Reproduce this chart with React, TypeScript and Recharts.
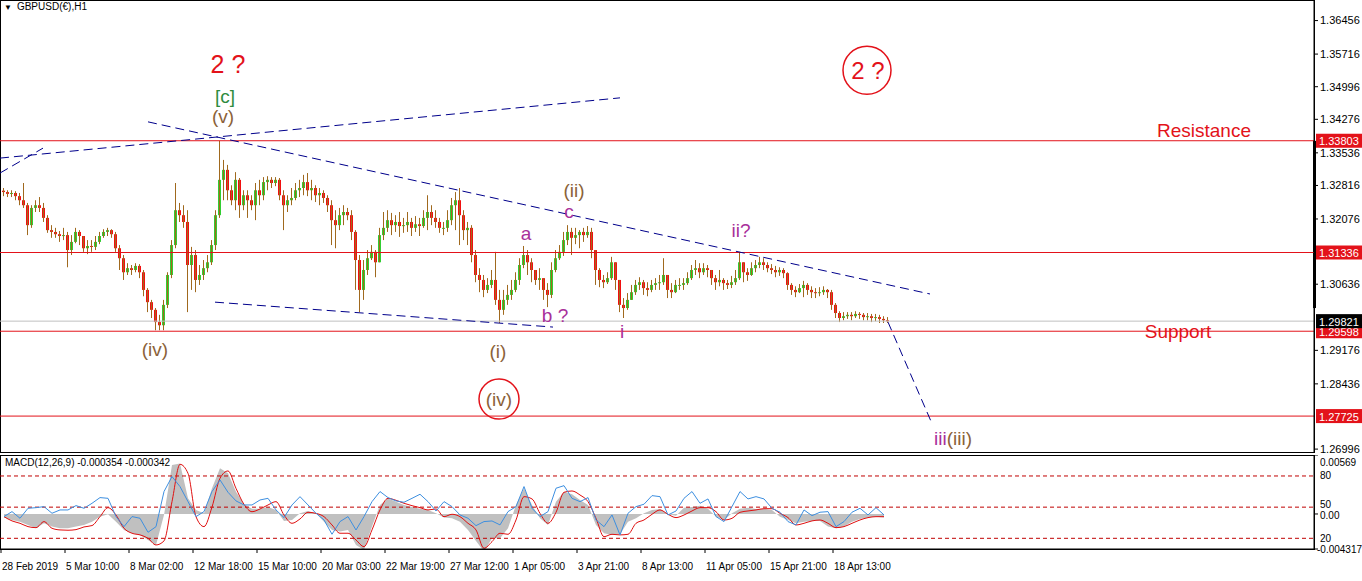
import React from "react";
import {
  ComposedChart,
  Bar,
  Line,
  Area,
  XAxis,
  YAxis,
  ReferenceLine,
  ReferenceDot,
  ReferenceArea,
} from "recharts";

// H1 candles grouped by 4 bars, prices in pips (x 1e-4)
const firstOpen = 13270;
const closes = [
  13267, 13263, 13265, 13258, 13249, 13238, 13194, 13232, 13238, 13232,
  13210, 13183, 13179, 13174, 13170, 13172, 13139, 13157, 13179, 13170,
  13143, 13148, 13146, 13157, 13170, 13179, 13183, 13174, 13143, 13121,
  13090, 13099, 13095, 13104, 13090, 13051, 13024, 13007, 12980, 12973,
  13018, 13084, 13150, 13227, 13216, 13201, 13106, 13128, 13073, 13084,
  13099, 13112, 13150, 13216, 13294, 13316, 13271, 13249, 13294, 13238,
  13260, 13249, 13238, 13271, 13260, 13289, 13294, 13287, 13294, 13260,
  13238, 13249, 13254, 13271, 13276, 13289, 13271, 13276, 13260, 13265,
  13254, 13238, 13205, 13194, 13216, 13223, 13216, 13179, 13117, 13051,
  13095, 13121, 13135, 13112, 13172, 13188, 13205, 13194, 13201, 13192,
  13194, 13201, 13188, 13196, 13192, 13210, 13223, 13210, 13201, 13188,
  13188, 13205, 13238, 13249, 13216, 13183, 13188, 13128, 13084, 13073,
  13051, 13062, 13073, 13029, 13007, 13029, 13040, 13051, 13073, 13106,
  13128, 13112, 13095, 13073, 13077, 13051, 13040, 13095, 13121, 13135,
  13161, 13179, 13166, 13172, 13179, 13172, 13179, 13139, 13095, 13073,
  13068, 13077, 13112, 13073, 13018, 13011, 13029, 13046, 13062, 13068,
  13055, 13051, 13062, 13066, 13068, 13084, 13051, 13046, 13062, 13062,
  13066, 13077, 13095, 13099, 13090, 13099, 13095, 13077, 13068, 13073,
  13066, 13062, 13068, 13077, 13112, 13090, 13084, 13099, 13106, 13112,
  13106, 13099, 13095, 13090, 13095, 13088, 13062, 13051, 13046, 13055,
  13062, 13051, 13046, 13044, 13046, 13051, 13046, 13018, 13000, 12989,
  12993, 12996, 12993, 12998, 12996, 12991, 12993, 12989, 12991, 12987,
  12984, 12982,
];
const highs = [
  13276, 13271, 13271, 13269, 13265, 13287, 13243, 13238, 13249, 13256,
  13243, 13216, 13194, 13188, 13181, 13188, 13179, 13172, 13188, 13183,
  13170, 13161, 13161, 13170, 13179, 13185, 13188, 13185, 13179, 13150,
  13128, 13110, 13106, 13110, 13108, 13095, 13055, 13029, 13011, 12996,
  13029, 13090, 13161, 13287, 13243, 13238, 13227, 13146, 13139, 13106,
  13117, 13128, 13161, 13227, 13380, 13338, 13327, 13282, 13311, 13298,
  13271, 13271, 13260, 13287, 13294, 13300, 13302, 13300, 13300, 13298,
  13271, 13260, 13276, 13287, 13294, 13305, 13309, 13294, 13282, 13276,
  13271, 13260, 13249, 13227, 13232, 13238, 13232, 13227, 13183, 13128,
  13117, 13139, 13150, 13139, 13188, 13223, 13227, 13221, 13216, 13223,
  13210, 13223, 13210, 13214, 13210, 13227, 13260, 13238, 13227, 13210,
  13201, 13227, 13254, 13267, 13276, 13227, 13201, 13194, 13139, 13099,
  13084, 13077, 13095, 13135, 13051, 13051, 13062, 13073, 13090, 13121,
  13148, 13139, 13121, 13095, 13099, 13073, 13066, 13112, 13139, 13150,
  13179, 13194, 13188, 13188, 13183, 13188, 13192, 13188, 13139, 13099,
  13084, 13090, 13124, 13112, 13062, 13033, 13044, 13062, 13073, 13079,
  13073, 13068, 13073, 13077, 13084, 13121, 13084, 13066, 13073, 13077,
  13077, 13090, 13106, 13117, 13110, 13110, 13106, 13095, 13084, 13095,
  13077, 13073, 13082, 13095, 13135, 13106, 13099, 13112, 13117, 13124,
  13121, 13112, 13108, 13104, 13101, 13099, 13090, 13066, 13059, 13064,
  13071, 13066, 13059, 13055, 13057, 13059, 13053, 13051, 13022, 13004,
  13002, 13002, 13002, 13004, 13002, 13000, 13000, 12998, 12998, 12996,
  12993, 12991,
];
const lows = [
  13258, 13256, 13256, 13249, 13238, 13232, 13172, 13188, 13223, 13223,
  13201, 13177, 13166, 13166, 13157, 13161, 13101, 13128, 13154, 13150,
  13135, 13130, 13135, 13139, 13152, 13166, 13170, 13166, 13135, 13095,
  13073, 13084, 13084, 13090, 13077, 13037, 13002, 12989, 12962, 12962,
  12962, 13011, 13077, 13143, 13201, 13188, 13002, 13051, 13046, 13062,
  13073, 13090, 13106, 13139, 13210, 13249, 13249, 13238, 13227, 13210,
  13227, 13210, 13227, 13205, 13238, 13249, 13271, 13276, 13280, 13249,
  13183, 13223, 13238, 13249, 13256, 13260, 13258, 13249, 13245, 13238,
  13243, 13223, 13150, 13143, 13183, 13194, 13205, 13161, 13051, 13002,
  13029, 13084, 13117, 13079, 13112, 13161, 13179, 13172, 13179, 13168,
  13177, 13179, 13170, 13179, 13170, 13188, 13183, 13194, 13188, 13177,
  13172, 13179, 13194, 13183, 13150, 13161, 13150, 13112, 13068, 13046,
  13035, 13044, 13055, 13018, 12978, 12996, 13018, 13029, 13046, 13062,
  13099, 13084, 13068, 13062, 13051, 13029, 13013, 13033, 13090, 13117,
  13126, 13150, 13128, 13152, 13143, 13157, 13166, 13121, 13062, 13057,
  13055, 13064, 13073, 13051, 13002, 12989, 13007, 13029, 13040, 13051,
  13040, 13037, 13046, 13051, 13051, 13062, 13033, 13033, 13044, 13051,
  13051, 13062, 13073, 13084, 13077, 13084, 13079, 13062, 13051, 13059,
  13051, 13053, 13055, 13062, 13073, 13068, 13071, 13082, 13090, 13099,
  13095, 13090, 13086, 13079, 13082, 13077, 13051, 13040, 13035, 13044,
  13035, 13040, 13033, 13033, 13037, 13040, 13033, 13007, 12989, 12980,
  12984, 12987, 12984, 12989, 12987, 12984, 12984, 12980, 12982, 12978,
  12978, 12978,
];

// MACD window, sampled every 8 bars; macd values in x 1e-4
const macdHist = [
  -3.5, -5.8, -7.4, -10.6, -13.8, -9.0, -12.2, -13.8, -13.8, -12.2,
  -10.6, -7.4, -2.6, -0.3, -7.4, -15.4, -18.6, -20.2, -25.1, -29.9,
  -1.0, 47.2, 48.8, 15.1, 3.9, 0.6, 24.7, 44.0, 39.2, 21.5,
  9.3, 5.1, 5.1, 6.7, 3.9, -6.7, -5.8, 0.6, 2.9, 0.6,
  -7.4, -15.4, -17.0, -15.4, -29.9, -34.7, -12.2, 8.7, 15.1, 11.9,
  8.7, 6.7, 5.1, 3.9, 0.6, -3.5, -4.2, -7.4, -15.4, -26.0,
  -36.3, -23.5, -23.5, -13.8, 8.7, 24.7, 8.7, -4.2, -10.6, 11.9,
  21.5, 19.0, 13.5, 8.7, -10.6, -18.6, -20.2, -19.6, -7.4, -4.2,
  0.6, 3.9, 4.8, -0.3, -1.6, 6.1, 6.7, 8.0, 5.1, -2.6,
  -5.8, 0.6, 5.1, 6.1, 4.8, 5.1, 3.9, -2.6, -5.8, -9.0,
  -7.4, -6.7, -6.7, -12.2, -13.8, -12.2, -7.4, -4.8, -3.5, -2.6,
  -3.5,
];
const macdSignal = [
  -2.6, -6.7, -9.0, -12.2, -13.2, -7.4, -13.8, -15.4, -15.7, -15.1,
  -12.5, -11.2, -2.6, 6.1, -1.0, -13.8, -18.6, -20.2, -23.5, -29.9,
  -26.0, 11.9, 47.9, 39.2, -2.6, -12.2, 6.7, 34.4, 41.5, 24.7,
  9.3, 2.2, 4.8, 8.7, 11.9, -1.0, -9.0, -4.8, 1.6, 0.6,
  -2.6, -10.6, -18.6, -18.6, -25.1, -31.5, -15.4, 3.9, 15.1, 13.2,
  10.3, 8.0, 6.1, 3.9, 4.8, -2.6, -0.3, -2.6, -9.0, -15.4,
  -33.1, -26.7, -18.6, -19.6, -5.8, 16.7, 14.5, 0.6, -9.0, 1.6,
  20.9, 22.2, 18.3, 11.9, -4.2, -21.9, -19.6, -20.2, -19.6, -9.0,
  -5.8, -0.3, 3.9, -0.3, -3.5, -1.0, 2.9, 6.1, 6.1, 2.2,
  -5.8, -4.2, 1.6, 2.9, 3.9, 5.1, 5.1, 0.6, -3.5, -10.6,
  -9.0, -6.7, -5.8, -9.0, -13.2, -12.2, -9.0, -5.8, -3.5, -2.6,
  -2.6,
];
const oscLine = [
  40.9, 45.7, 39.3, 48.9, 49.5, 50.5, 44.1, 47.3, 47.3, 51.5,
  48.9, 53.7, 59.2, 58.5, 40.9, 31.2, 40.9, 39.3, 25.8, 31.2,
  65.0, 79.4, 69.8, 55.3, 40.9, 45.7, 65.0, 76.2, 64.3, 56.0,
  52.1, 52.1, 56.9, 58.5, 47.3, 39.9, 52.1, 60.1, 52.1, 44.1,
  37.7, 23.9, 36.1, 40.9, 28.0, 40.9, 55.3, 65.0, 59.2, 56.0,
  54.7, 58.5, 62.4, 55.3, 46.3, 55.3, 50.5, 42.5, 39.3, 32.2,
  36.1, 36.7, 32.9, 45.7, 50.5, 69.8, 48.9, 40.9, 45.7, 68.2,
  70.7, 58.5, 55.3, 59.2, 37.7, 31.2, 42.5, 23.2, 44.1, 50.5,
  52.8, 61.1, 60.1, 42.5, 46.3, 58.5, 65.0, 53.7, 57.9, 40.9,
  36.1, 50.5, 65.0, 57.9, 60.1, 57.9, 48.9, 45.1, 36.1, 32.9,
  47.3, 41.8, 45.1, 45.7, 31.2, 36.1, 45.1, 48.9, 42.5, 49.5,
  42.5,
];

const timeTicks = [1, 65, 129, 193, 257, 321, 385, 449, 513, 577, 641, 705, 769, 833];
const timeLabels = [
  "28 Feb 2019", "5 Mar 10:00", "8 Mar 02:00", "12 Mar 18:00", "15 Mar 10:00",
  "20 Mar 03:00", "22 Mar 19:00", "27 Mar 12:00", "1 Apr 05:00", "3 Apr 21:00",
  "8 Apr 13:00", "11 Apr 05:00", "15 Apr 21:00", "18 Apr 13:00",
];
const priceTicks = [
  1.36456, 1.35716, 1.34996, 1.34276, 1.33536, 1.32816, 1.32076, 1.30636,
  1.29176, 1.28436, 1.26996,
];
const levels = [1.33803, 1.31336, 1.29598, 1.27725];
const lastPrice = 1.29821;
const oscLevels = [80, 50, 20];

const FONT = "Arial, 'Liberation Sans', sans-serif";
const RED = "#E3121A";
const BROWN = "#8B6239";
const MAGENTA = "#A8309A";
const GREEN_TXT = "#2E8B3E";
const NAVY = "#00008B";

const candles = closes.map((c, i) => {
  const open = i === 0 ? firstOpen : closes[i - 1];
  return {
    t: 4 * i + 2,
    open: open / 1e4,
    close: c / 1e4,
    high: Math.max(highs[i], open, c) / 1e4,
    low: Math.min(lows[i], open, c) / 1e4,
  };
});

const macdData = macdHist.map((h, j) => ({
  t: 8 * j + 4,
  hist: h / 1e4,
  signal: macdSignal[j] / 1e4,
  osc: oscLine[j],
}));

// trend lines: [bar, price] pairs
const trendLines = [
  [[0, 1.3342], [620, 1.3475]],
  [[0, 1.3309], [43, 1.3364]],
  [[148, 1.3422], [930, 1.3042]],
  [[215, 1.3024], [553, 1.2969]],
  [[888, 1.298], [931, 1.2761]],
];

const notes = [
  { x: 228, p: 1.355, text: "2 ?", color: RED, size: 25 },
  { x: 225, p: 1.3479, text: "[c]", color: GREEN_TXT, size: 19 },
  { x: 223, p: 1.3433, text: "(v)", color: BROWN, size: 19 },
  { x: 155, p: 1.292, text: "(iv)", color: BROWN, size: 19 },
  { x: 498, p: 1.2916, text: "(i)", color: BROWN, size: 19 },
  { x: 499, p: 1.2808, text: "(iv)", color: BROWN, size: 19 },
  { x: 574, p: 1.3271, text: "(ii)", color: BROWN, size: 19 },
  { x: 569, p: 1.3225, text: "c", color: MAGENTA, size: 19 },
  { x: 526, p: 1.3176, text: "a", color: MAGENTA, size: 19 },
  { x: 555, p: 1.2995, text: "b ?", color: MAGENTA, size: 19 },
  { x: 622, p: 1.296, text: "i", color: MAGENTA, size: 19 },
  { x: 741, p: 1.3183, text: "ii?", color: MAGENTA, size: 19 },
  { x: 868, p: 1.3536, text: "2 ?", color: RED, size: 24 },
  { x: 1204, p: 1.3404, text: "Resistance", color: RED, size: 19 },
  { x: 1178, p: 1.296, text: "Support", color: RED, size: 19 },
];
const circles = [
  { x: 499, p: 1.281, r: 20 },
  { x: 867, p: 1.3536, r: 24 },
];

const Candle = (props: any) => {
  const { x, y, width, height, payload } = props;
  const { open, close, high, low } = payload;
  const span = high - low || 1e-9;
  const toY = (v: number) => y + ((high - v) / span) * height;
  const top = toY(Math.max(open, close));
  const bot = toY(Math.min(open, close));
  const cx = Math.round(x + width / 2);
  return (
    <g>
      <rect x={cx - 1} y={top} width={3} height={Math.max(1, bot - top)} fill={close >= open ? "#32CD32" : "#F01010"} />
      <line x1={cx + 0.5} x2={cx + 0.5} y1={y} y2={y + height} stroke="#A0691E" strokeWidth={1} />
    </g>
  );
};

const PriceTag = ({ viewBox, text, bg }: any) => {
  const { x, y, width } = viewBox;
  return (
    <g>
      <rect x={x + width + 2} y={y - 7} width={46} height={14} fill={bg} />
      <text x={x + width + 5} y={y + 0.5} dominantBaseline="central" fill="#fff" fontSize={11} fontFamily={FONT}>
        {text}
      </text>
    </g>
  );
};

const Note = ({ viewBox, text, color, size }: any) => (
  <text
    x={viewBox.x + viewBox.width / 2}
    y={viewBox.y + viewBox.height / 2}
    textAnchor="middle"
    dominantBaseline="central"
    fill={color}
    fontSize={size}
    fontFamily={FONT}
  >
    {text}
  </text>
);

const WaveIII = ({ viewBox }: any) => (
  <text x={viewBox.x} y={viewBox.y} textAnchor="middle" dominantBaseline="central" fontSize={19} fontFamily={FONT}>
    <tspan fill={MAGENTA}>iii</tspan>
    <tspan fill={BROWN}>(iii)</tspan>
  </text>
);

const SideText = ({ viewBox, text, dy = 0 }: any) => (
  <text x={viewBox.x + viewBox.width + 6} y={viewBox.y + dy} dominantBaseline="central" fontSize={10} fontFamily={FONT} fill="#000">
    {text}
  </text>
);

const TimeTick = ({ x, y, payload }: any) => {
  const i = timeTicks.indexOf(payload.value);
  return (
    <text x={x + 1} y={y + 11} textAnchor="start" dominantBaseline="central" fontSize={10} fontFamily={FONT} fill="#000">
      {timeLabels[i]}
    </text>
  );
};

const MacdTick = ({ x, y, payload }: any) => {
  const v = payload.value;
  const text = v > 0 ? "0.00569" : v < 0 ? "-0.004317" : "0.00";
  const dy = v > 0 ? 7 : v < 0 ? 0 : 2;
  return (
    <text x={v < 0 ? x - 3 : x} y={y + dy} textAnchor="start" dominantBaseline="central" fontSize={10} fontFamily={FONT} fill="#000">
      {text}
    </text>
  );
};

export default function App() {
  return (
    <div style={{ position: "absolute", left: 0, top: 0, width: 1362, height: 581, background: "#fff", fontFamily: FONT, overflow: "hidden" }}>
      <div style={{ position: "absolute", left: 0, top: 0, width: 1315, height: 453, border: "1px solid #000", boxSizing: "border-box" }} />
      <div style={{ position: "absolute", left: 0, top: 455, width: 1315, height: 95, border: "1px solid #000", boxSizing: "border-box" }} />

      <div style={{ position: "absolute", left: 0, top: 0 }}>
        <ComposedChart width={1362} height={455} data={candles} margin={{ top: 0, right: 0, bottom: 2, left: 0 }}>
          <XAxis dataKey="t" type="number" domain={[0, 1314]} hide allowDataOverflow />
          <YAxis
            orientation="right"
            type="number"
            domain={[1.2691, 1.3691]}
            ticks={priceTicks}
            interval={0}
            width={48}
            tickSize={4}
            tickMargin={2}
            tick={{ fontSize: 11, fill: "#000", fontFamily: FONT }}
            tickFormatter={(v: number) => v.toFixed(5)}
            axisLine={{ stroke: "#000" }}
            tickLine={{ stroke: "#000" }}
            allowDataOverflow
          />
          <ReferenceArea x1={1313} x2={1316} y1={1.3011} y2={1.338} fill="#000" fillOpacity={1} stroke="none" ifOverflow="visible" />
          <Bar dataKey={(d: any) => [d.low, d.high]} barSize={3} shape={(p: any) => <Candle {...p} />} isAnimationActive={false} />
          {levels.map((lv) => (
            <ReferenceLine key={lv} y={lv} stroke={RED} strokeWidth={1} label={<PriceTag text={lv.toFixed(5)} bg={RED} />} />
          ))}
          <ReferenceLine y={lastPrice} stroke="#C0C0C0" strokeWidth={1} label={<PriceTag text={lastPrice.toFixed(5)} bg="#000" />} />
          {trendLines.map((s, i) => (
            <ReferenceLine
              key={i}
              segment={[{ x: s[0][0], y: s[0][1] }, { x: s[1][0], y: s[1][1] }]}
              stroke={NAVY}
              strokeWidth={1}
              strokeDasharray="9 5"
              ifOverflow="visible"
            />
          ))}
          {circles.map((c, i) => (
            <ReferenceDot key={i} x={c.x} y={c.p} r={c.r} fill="none" stroke={RED} strokeWidth={1.5} />
          ))}
          {notes.map((n, i) => (
            <ReferenceDot key={"n" + i} x={n.x} y={n.p} r={0} fill="none" stroke="none" label={<Note text={n.text} color={n.color} size={n.size} />} />
          ))}
          <ReferenceDot x={953} y={1.2724} r={0} fill="none" stroke="none" label={<WaveIII />} />
        </ComposedChart>
      </div>

      <div style={{ position: "absolute", left: 0, top: 455 }}>
        <ComposedChart width={1362} height={126} data={macdData} margin={{ top: 0, right: 0, bottom: 0, left: 0 }}>
          <XAxis
            dataKey="t"
            type="number"
            domain={[0, 1314]}
            ticks={timeTicks}
            interval={0}
            height={32}
            tickSize={4}
            tick={<TimeTick />}
            axisLine={{ stroke: "#000" }}
            tickLine={{ stroke: "#000" }}
            allowDataOverflow
          />
          <YAxis
            yAxisId="macd"
            orientation="right"
            type="number"
            domain={[-0.00338, 0.00569]}
            ticks={[0.00569, 0, -0.00338]}
            interval={0}
            width={48}
            tickSize={4}
            tickMargin={2}
            tick={<MacdTick />}
            axisLine={{ stroke: "#000" }}
            tickLine={{ stroke: "#000" }}
            allowDataOverflow
          />
          <YAxis yAxisId="osc" type="number" domain={[9.7, 100.2]} hide allowDataOverflow />
          <Area yAxisId="macd" type="linear" dataKey="hist" baseValue={0} fill="#C0C0C0" fillOpacity={1} stroke="none" isAnimationActive={false} />
          {oscLevels.map((lv) => (
            <ReferenceLine
              key={lv}
              yAxisId="osc"
              y={lv}
              stroke="#C00000"
              strokeDasharray="4 3"
              label={<SideText text={String(lv)} dy={lv === 50 ? -3 : 0} />}
            />
          ))}
          <Line yAxisId="macd" type="monotone" dataKey="signal" stroke="#E01010" strokeWidth={1} dot={false} isAnimationActive={false} />
          <Line yAxisId="osc" type="linear" dataKey="osc" stroke="#3D8FE0" strokeWidth={1} dot={false} isAnimationActive={false} />
        </ComposedChart>
      </div>

      <div style={{ position: "absolute", left: 4, top: 1, fontSize: 10, color: "#000", whiteSpace: "nowrap" }}>
        <span style={{ fontSize: 8, marginRight: 5 }}>▼</span>GBPUSD(€),H1
      </div>
      <div style={{ position: "absolute", left: 5, top: 457, fontSize: 10, color: "#000", whiteSpace: "nowrap" }}>
        MACD(12,26,9) -0.000354 -0.000342
      </div>
    </div>
  );
}
